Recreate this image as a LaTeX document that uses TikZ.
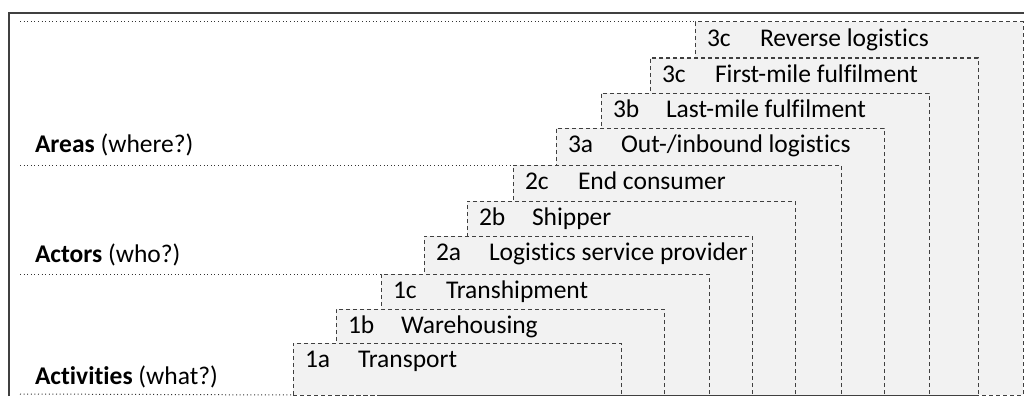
\documentclass[tikz,border=0pt]{standalone}
\usepackage{fontspec}
\setmainfont{Carlito}[RawFeature=-liga]
\definecolor{boxfill}{HTML}{F2F2F2}
\definecolor{boxline}{HTML}{404040}
\begin{document}
\begin{tikzpicture}[x=1pt, y=-1pt]
\tikzset{ inner sep=0pt, outer sep=0pt,
  every node/.style={font=\fontsize{25.5}{30}\selectfont},
  area/.style={draw=boxline, fill=boxfill, line width=1pt,
    dash pattern=on 4pt off 3pt, anchor=north west, minimum width=328pt},
  sep/.style={black!80, line width=1pt, dash pattern=on 1pt off 2.6pt},
  num/.style={anchor=base west},
}
\useasboundingbox (0,0) rectangle (1024,396);

% frame
\draw [boxline, line width=1.5pt] (9,396) -- (9,13) -- (1024,13);

% boxes, top one first
\node [area, minimum height=373pt] (R)  at (695,22)  {};
\node [area, minimum height=337pt] (F)  at (650,58)  {};
\node [area, minimum height=302pt] (L)  at (601,93)  {};
\node [area, minimum height=267pt] (O)  at (556,128) {};
\node [area, minimum height=230pt] (E)  at (513,165) {};
\node [area, minimum height=194pt] (S)  at (467,201) {};
\node [area, minimum height=159pt] (P)  at (424,236) {};
\node [area, minimum height=121pt] (T)  at (381,274) {};
\node [area, minimum height=86pt]  (W)  at (336,309) {};
\node [area, minimum height=52pt]  (Tr) at (293,343) {};

\node [num] (nR)  at ([shift={(12,24)}]R.north west)  {3c};
\node [num] (nF)  at ([shift={(12,24)}]F.north west)  {3c};
\node [num] (nL)  at ([shift={(12,24)}]L.north west)  {3b};
\node [num] (nO)  at ([shift={(12,24)}]O.north west)  {3a};
\node [num] (nE)  at ([shift={(12,24)}]E.north west)  {2c};
\node [num] (nS)  at ([shift={(12,24)}]S.north west)  {2b};
\node [num] (nP)  at ([shift={(12,24)}]P.north west)  {2a};
\node [num] (nT)  at ([shift={(12,24)}]T.north west)  {1c};
\node [num] (nW)  at ([shift={(12,24)}]W.north west)  {1b};
\node [num] (nTr) at ([shift={(12,24)}]Tr.north west) {1a};

\node [num] (tR)  at ([shift={(65,24)}]R.north west)  {Reverse logistics};
\node [num] (tF)  at ([shift={(65,24)}]F.north west)  {First-mile fulfilment};
\node [num] (tL)  at ([shift={(65,24)}]L.north west)  {Last-mile fulfilment};
\node [num] (tO)  at ([shift={(65,24)}]O.north west)  {Out-/inbound logistics};
\node [num] (tE)  at ([shift={(65,24)}]E.north west)  {End consumer};
\node [num] (tS)  at ([shift={(65,24)}]S.north west)  {Shipper};
\node [num] (tP)  at ([shift={(65,24)}]P.north west)  {Logistics service provider};
\node [num] (tT)  at ([shift={(65,24)}]T.north west)  {Transhipment};
\node [num] (tW)  at ([shift={(65,24)}]W.north west)  {Warehousing};
\node [num] (tTr) at ([shift={(65,24)}]Tr.north west) {Transport};

% row separators
\coordinate (s1) at (20,22);
\coordinate (s2) at (20,165);
\coordinate (s3) at (20,274);
\coordinate (s4) at (20,394);
\draw [sep] (s1) -- (R.north west);
\draw [sep] (s2) -- (E.north west);
\draw [sep] (s3) -- (T.north west);
\draw [sep] (s4) -- (Tr.south west);

\node [num] (areas)  at (35,152) {\textbf{Areas} (where?)};
\node [num] (actors) at (35,262) {\textbf{Actors} (who?)};
\node [num] (activ)  at (35,384) {\textbf{Activities} (what?)};
\end{tikzpicture}
\end{document}
